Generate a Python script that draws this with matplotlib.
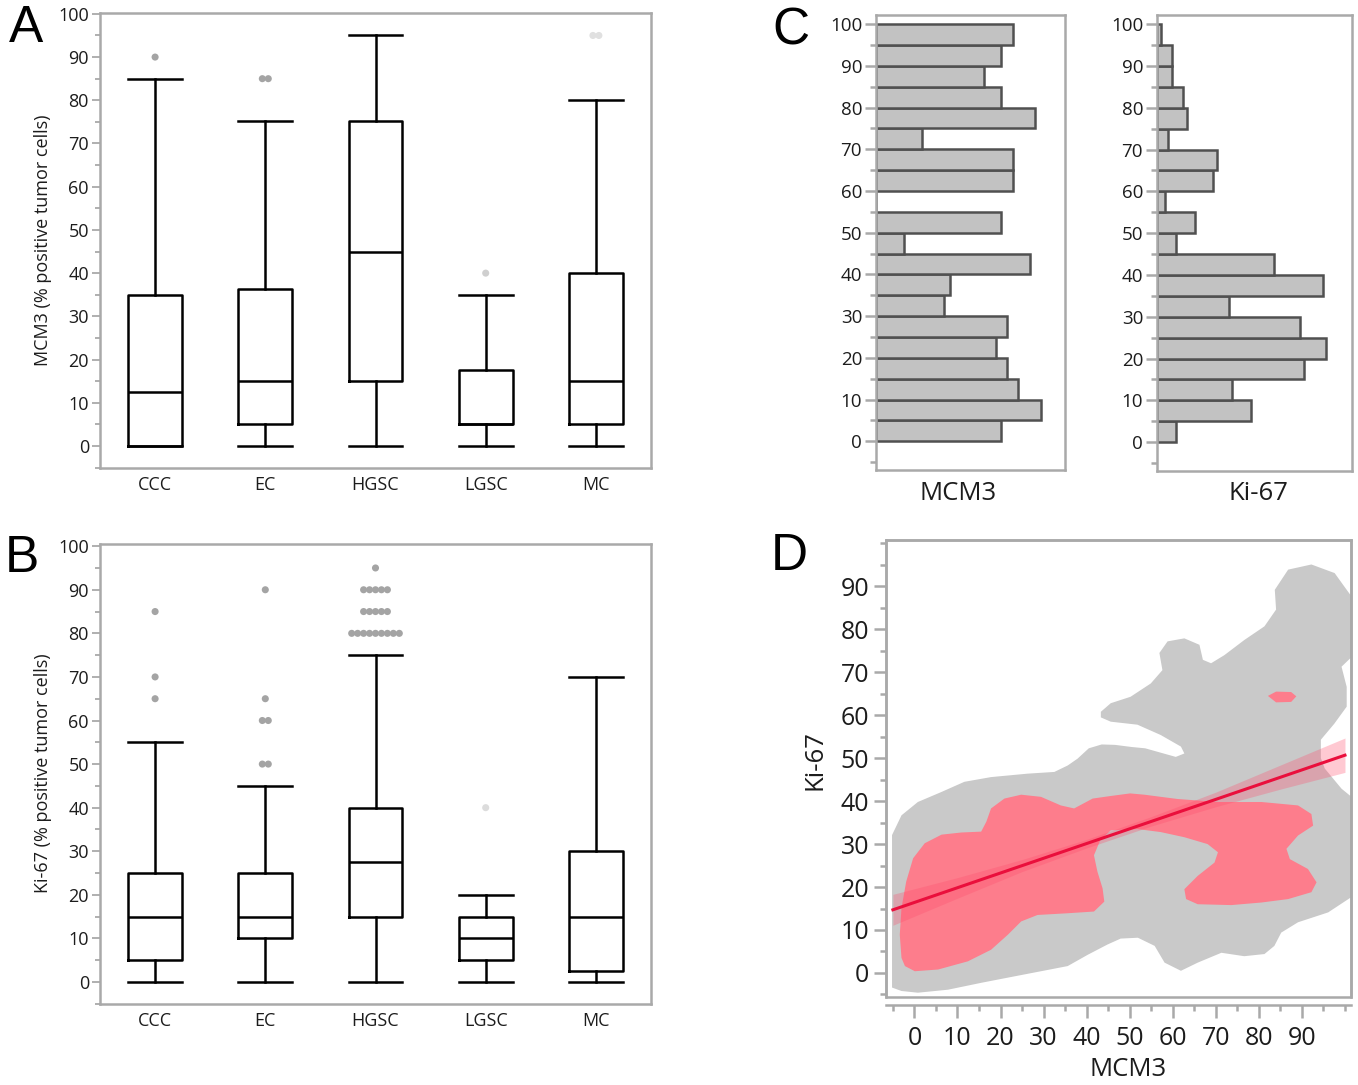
import matplotlib

matplotlib.use("Agg")
import matplotlib.pyplot as plt
import numpy as np
from matplotlib.patches import Rectangle
from matplotlib.ticker import MultipleLocator, NullLocator

plt.rcParams["font.family"] = ["Open Sans", "DejaVu Sans"]

W, H = 1358, 1085
FRAME = "#a9a9a9"
TEXT = "#1c1c1c"

CATEGORIES = ["CCC", "EC", "HGSC", "LGSC", "MC"]

# --- panel A: MCM3 by histotype -------------------------------------------
mcm3_lo = [0, 0, 0, 0, 0]
mcm3_q1 = [0, 5, 15, 5, 5]
mcm3_med = [12.5, 15, 45, 5, 15]
mcm3_q3 = [35, 36.3, 75.2, 17.5, 40]
mcm3_hi = [85, 75.2, 95, 35, 80]
mcm3_out = [[90], [85, 85], [], [40], [95, 95]]
mcm3_out_color = ["#a4a4a4", "#a4a4a4", "#a4a4a4", "#cfcfcf", "#e0e0e0"]

# --- panel B: Ki-67 by histotype ------------------------------------------
ki67_lo = [0, 0, 0, 0, 0]
ki67_q1 = [5, 10, 15, 5, 2.5]
ki67_med = [15, 15, 27.5, 10, 15]
ki67_q3 = [25, 25, 40, 15, 30]
ki67_hi = [55, 45, 75, 20, 70]
ki67_out = [
    [65, 70, 85],
    [50, 50, 60, 60, 65, 90],
    [80] * 9 + [85] * 5 + [90] * 5 + [95],
    [40],
    [],
]
ki67_out_color = ["#a4a4a4", "#a4a4a4", "#a4a4a4", "#dcdcdc", "#a4a4a4"]

# --- panel C: histograms (5 % bins, 0-100) ----------------------------------
bin_lows = list(range(0, 100, 5))
mcm3_counts = [22, 29, 25, 23, 21, 23, 12, 13, 27, 5, 22, 0, 24, 24, 8, 28, 22, 19, 22, 24]
ki67_counts = [5, 25, 20, 39, 45, 38, 19, 44, 31, 5, 10, 2, 15, 16, 3, 8, 7, 4, 4, 1]

# --- panel D: density regions + linear fit ----------------------------------
gray_region = np.array([
    (-5.2, -3.4), (-5.2, 32.1), (-3.0, 36.7), (0.8, 39.8), (6.2, 42.1),
    (11.6, 44.5), (17.8, 45.6), (26.3, 46.4), (32.5, 46.8), (35.6, 48.3),
    (37.9, 49.9), (40.5, 52.3), (43.5, 53.2), (46.6, 53.1), (50.5, 52.6),
    (53.6, 52.3), (57.5, 51.2), (60.7, 50.3), (62.7, 51.1), (61.9, 52.7),
    (57.2, 55.4), (51.8, 57.8), (45.6, 58.5), (43.3, 59.5), (43.3, 60.8),
    (45.6, 62.8), (50.2, 64.3), (54.9, 67.4), (57.6, 70.5), (56.9, 74.5),
    (58.8, 77.2), (62.7, 77.9), (66.2, 76.4), (67.0, 72.9), (68.9, 72.1),
    (72.0, 74.0), (76.6, 77.5), (81.3, 80.7), (84.0, 84.6), (83.7, 89.2),
    (86.8, 93.9), (92.2, 95.1), (97.6, 93.1), (100.4, 89.2), (102.0, 87.0),
    (102.0, 74.0), (99.2, 71.3), (100.4, 66.6), (100.4, 62.0), (97.5, 58.0),
    (94.4, 54.3), (94.4, 50.0), (95.3, 47.6), (99.2, 42.9), (102.0, 40.6),
    (102.0, 18.0), (96.1, 14.1), (89.1, 11.8), (85.2, 9.4), (83.6, 6.3),
    (81.3, 4.4), (76.6, 3.9), (71.3, 4.7), (65.8, 2.4), (61.9, 0.5),
    (58.1, 2.4), (55.8, 6.3), (51.9, 8.2), (47.9, 8.0), (44.8, 6.6),
    (40.2, 4.2), (35.6, 1.6), (29.4, 0.4), (23.2, -0.8), (15.5, -2.3),
    (7.8, -3.9), (0.8, -4.6), (-3.0, -4.2),
])
red_region = np.array([
    (-3.0, 3.5), (-3.4, 8.9), (-3.0, 15.1), (-1.9, 21.3), (-0.3, 26.7),
    (2.4, 30.2), (6.3, 32.2), (10.9, 32.7), (15.5, 32.9), (16.7, 35.2),
    (17.8, 38.3), (20.9, 40.6), (24.8, 41.5), (29.4, 41.0), (34.0, 39.0),
    (37.1, 38.3), (41.4, 40.6), (45.6, 41.2), (50.1, 41.8), (53.4, 41.5),
    (61.1, 40.5), (70.5, 39.8), (80.6, 39.8), (89.1, 39.0), (92.2, 37.0),
    (92.6, 34.3), (89.1, 32.0), (86.4, 28.9), (87.2, 26.5), (91.4, 24.2),
    (93.4, 21.1), (92.2, 18.8), (86.8, 17.2), (80.6, 16.4), (73.6, 15.8),
    (65.8, 16.0), (63.1, 17.2), (62.7, 19.5), (65.8, 22.6), (69.7, 25.7),
    (70.5, 28.1), (68.1, 30.0), (62.7, 31.6), (57.2, 32.8), (51.8, 33.5),
    (45.6, 33.2), (43.2, 31.0), (41.7, 27.4), (42.5, 23.6), (43.7, 19.7),
    (44.1, 16.6), (41.7, 14.3), (35.6, 13.9), (28.6, 13.5), (24.8, 12.0),
    (21.7, 8.9), (17.8, 5.4), (12.4, 2.7), (5.5, 0.8), (0.1, 0.4),
    (-2.2, 1.6),
])
red_blob = np.array([
    (82.1, 64.5), (84.0, 65.5), (87.5, 65.4), (88.7, 64.4), (87.5, 63.1), (84.0, 63.0),
])
fit_x = [-5, 100]
fit_y = [14.7, 50.7]
band_x = [-5, 10, 25, 40, 55, 70, 85, 100]
band_hi = [18.3, 22.2, 26.4, 31.1, 36.4, 42.1, 48.4, 54.7]
band_lo = [11.1, 17.4, 23.6, 29.1, 34.2, 38.7, 42.8, 46.7]


def px_axes(left, top, right, bottom):
    return [left / W, 1 - bottom / H, (right - left) / W, (bottom - top) / H]


def style_frame(ax):
    for s in ax.spines.values():
        s.set_color(FRAME)
        s.set_linewidth(1.8)


def box_panel(ax, lo, q1, med, q3, hi, outliers, out_colors, ylim):
    stats = [
        dict(whislo=a, q1=b, med=c, q3=d, whishi=e)
        for a, b, c, d, e in zip(lo, q1, med, q3, hi)
    ]
    line = dict(color="black", linewidth=1.8)
    ax.bxp(stats, positions=range(len(CATEGORIES)), widths=0.49, capwidths=0.49,
           showfliers=False, boxprops=line, whiskerprops=line, capprops=line,
           medianprops=line)
    for i, (vals, col) in enumerate(zip(outliers, out_colors)):
        if not vals:
            continue
        uniq, counts = np.unique(vals, return_counts=True)
        for v, n in zip(uniq, counts):
            offs = (np.arange(n) - (n - 1) / 2) * 0.054
            ax.scatter(i + offs, np.full(n, v), s=26, color=col,
                       edgecolors="none", zorder=3)
    ax.set_xlim(-0.5, len(CATEGORIES) - 0.5)
    ax.set_ylim(*ylim)
    ax.set_xticks(range(len(CATEGORIES)))
    ax.set_xticklabels(CATEGORIES)
    ax.yaxis.set_major_locator(MultipleLocator(10))
    ax.yaxis.set_minor_locator(MultipleLocator(5))
    ax.tick_params(axis="x", length=0, pad=6, labelsize=13, labelcolor=TEXT)
    ax.tick_params(axis="y", which="major", length=6, width=1.3, color=FRAME,
                   pad=2, labelsize=13, labelcolor=TEXT)
    ax.tick_params(axis="y", which="minor", length=3.5, width=1.3, color=FRAME)
    style_frame(ax)


def hist_panel(ax, counts, xmax):
    ax.barh(bin_lows, counts, height=5, align="edge", color="#c2c2c2",
            edgecolor="#505050", linewidth=1.8)
    ax.set_xlim(0, xmax)
    ax.set_ylim(-6.9, 102.2)
    ax.xaxis.set_major_locator(NullLocator())
    ax.yaxis.set_major_locator(MultipleLocator(10))
    ax.yaxis.set_minor_locator(MultipleLocator(5))
    ax.set_yticks(range(0, 101, 10))
    ax.tick_params(axis="y", which="major", length=8, width=1.8, color=FRAME,
                   pad=2, labelsize=13.5, labelcolor=TEXT)
    ax.tick_params(axis="y", which="minor", length=4, width=1.8, color=FRAME)
    style_frame(ax)


fig = plt.figure(figsize=(W / 100, H / 100), dpi=100)

# A
ax_a = fig.add_axes(px_axes(100, 13, 651, 468))
box_panel(ax_a, mcm3_lo, mcm3_q1, mcm3_med, mcm3_q3, mcm3_hi, mcm3_out,
          mcm3_out_color, (-5.1, 100.2))
fig.text(43 / W, 1 - 240 / H, "MCM3 (% positive tumor cells)", rotation=90,
         ha="center", va="center", fontsize=13, color=TEXT)

# B
ax_b = fig.add_axes(px_axes(100, 544, 651, 1004))
box_panel(ax_b, ki67_lo, ki67_q1, ki67_med, ki67_q3, ki67_hi, ki67_out,
          ki67_out_color, (-5.05, 100.5))
fig.text(43 / W, 1 - 773 / H, "Ki-67 (% positive tumor cells)", rotation=90,
         ha="center", va="center", fontsize=13, color=TEXT)

# C
ax_c1 = fig.add_axes(px_axes(876, 15, 1065, 470))
hist_panel(ax_c1, mcm3_counts, 33.2)
ax_c2 = fig.add_axes(px_axes(1157, 15, 1352, 471))
hist_panel(ax_c2, ki67_counts, 51.8)
fig.text(958 / W, 1 - 493 / H, "MCM3", ha="center", va="center", fontsize=18.5, color=TEXT)
fig.text(1258 / W, 1 - 493 / H, "Ki-67", ha="center", va="center", fontsize=18.5, color=TEXT)

# D
ax_d = fig.add_axes(px_axes(886, 540, 1351, 997))
ax_d.fill(gray_region[:, 0], gray_region[:, 1], color="#c9c9c9", lw=0, zorder=1)
ax_d.fill(red_region[:, 0], red_region[:, 1], color="#fd7d8c", lw=0, zorder=2)
ax_d.fill(red_blob[:, 0], red_blob[:, 1], color="#fd7d8c", lw=0, zorder=2)
ax_d.fill_between(band_x, band_lo, band_hi, color="#ff4d6d", alpha=0.3, lw=0, zorder=3)
ax_d.plot(fit_x, fit_y, color="#ea0f3c", lw=2.2, zorder=4)
ax_d.set_xlim(-6.6, 101.4)
ax_d.set_ylim(-5.6, 100.8)
ax_d.xaxis.set_major_locator(MultipleLocator(10))
ax_d.xaxis.set_minor_locator(MultipleLocator(5))
ax_d.set_xticks(range(0, 91, 10))
ax_d.set_yticks(range(0, 91, 10))
ax_d.yaxis.set_minor_locator(MultipleLocator(5))
style_frame(ax_d)
ax_d.spines["bottom"].set_position(("outward", 6))
ax_d.add_patch(Rectangle((0, 0), 1, 1, transform=ax_d.transAxes, fill=False,
                         ec=FRAME, lw=1.8, clip_on=False, zorder=5))
ax_d.tick_params(which="major", length=9, width=1.8, color=FRAME,
                 labelsize=18, labelcolor=TEXT)
ax_d.tick_params(which="minor", length=4.5, width=1.8, color=FRAME)
ax_d.tick_params(axis="x", pad=6)
ax_d.tick_params(axis="y", pad=3)
fig.text(815 / W, 1 - 760 / H, "Ki-67", rotation=90, ha="center", va="center",
         fontsize=18.5, color=TEXT)
fig.text(1128 / W, 1 - 1069 / H, "MCM3", ha="center", va="center", fontsize=18.5,
         color=TEXT)

# panel letters
for letter, (x, y) in zip("ABCD", [(26, 28), (22, 558), (791, 31), (789, 557)]):
    fig.text(x / W, 1 - y / H, letter, ha="center", va="center", fontsize=37,
             family=["Liberation Sans", "DejaVu Sans"], color="black")

fig.savefig("out.png", dpi=100)
